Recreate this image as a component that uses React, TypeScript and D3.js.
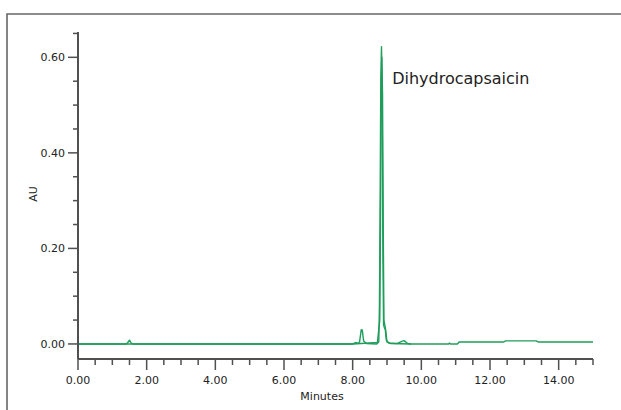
import React from "react";
import * as d3 from "d3";

// Trace 1 (minutes, AU)
const trace1Time = [0, 1.4, 1.45, 1.5, 1.55, 1.6, 8.0, 8.1, 8.15, 8.2, 8.25, 8.28, 8.32, 8.4, 8.7, 8.76, 8.78, 8.8, 8.82, 8.84, 8.86, 8.88, 8.9, 8.92, 8.95, 8.98, 9.05, 9.3, 9.45, 9.5, 9.6, 9.7, 10.8, 10.82, 10.85, 11.05, 11.1, 12.4, 12.45, 13.35, 13.4, 15.0];
const trace1AU = [0, 0, 0.003, 0.008, 0.002, 0, 0, 0.003, 0.001, 0.004, 0.030, 0.029, 0.006, 0.001, 0, 0.004, 0.08, 0.3, 0.56, 0.622, 0.5, 0.2, 0.04, 0.035, 0.03, 0.008, 0.002, 0.001, 0.006, 0.007, 0.001, 0, 0, 0.002, 0, 0, 0.004, 0.004, 0.0065, 0.0065, 0.004, 0.004];

// Trace 2 (minutes, AU)
const trace2Time = [0, 8.0, 8.72, 8.79, 8.81, 8.83, 8.85, 8.87, 8.89, 8.91, 8.93, 8.96, 9.0, 9.1, 9.7];
const trace2AU = [0, 0, 0.003, 0.05, 0.25, 0.5, 0.6, 0.52, 0.25, 0.05, 0.042, 0.03, 0.004, 0.001, 0];

const yMajor = [0, 0.2, 0.4, 0.6];
const yMinor = [0.05, 0.1, 0.15, 0.25, 0.3, 0.35, 0.45, 0.5, 0.55, 0.65];
const xMajor = [0, 2, 4, 6, 8, 10, 12, 14];
const xMinor = [0.5, 1, 1.5, 2.5, 3, 3.5, 4.5, 5, 5.5, 6.5, 7, 7.5, 8.5, 9, 9.5, 10.5, 11, 11.5, 12.5, 13, 13.5, 14.5, 15];

const peakLabel = "Dihydrocapsaicin";
const peakLabelTime = 9.15;
const peakLabelAU = 0.545;

export default function App() {
  const W = 621, H = 410;
  const x = d3.scaleLinear().domain([0, 15]).range([78, 593]);
  const y = d3.scaleLinear().domain([-0.0315, 0.653]).range([359, 32]);
  const line = d3.line<[number, number]>().x(d => x(d[0])).y(d => y(d[1]));
  const t1 = trace1Time.map((t, i) => [t, trace1AU[i]] as [number, number]);
  const t2 = trace2Time.map((t, i) => [t, trace2AU[i]] as [number, number]);
  const axisColor = "#505050";
  const font = "DejaVu Sans, Verdana, sans-serif";
  const green = "#1f9d5b";
  return (
    <svg width={W} height={H} style={{ position: "absolute", left: 0, top: 0, background: "#fff" }}>
      <rect x={0} y={0} width={W} height={H} fill="#fff" />
      {/* frame */}
      <path d={`M7,${H} L7,14 L${W},14`} fill="none" stroke="#666" strokeWidth={1.6} />
      {/* traces */}
      <path d={line(t2) || ""} fill="none" stroke={green} strokeWidth={1.4} strokeLinejoin="round" />
      <path d={line(t1) || ""} fill="none" stroke={green} strokeWidth={1.4} strokeLinejoin="round" />
      {/* y axis */}
      <line x1={x(0)} x2={x(0)} y1={y(-0.0315)} y2={y(0.653)} stroke={axisColor} strokeWidth={2} />
      {yMajor.map(v => (
        <g key={"ym" + v}>
          <line x1={x(0) - 10} x2={x(0)} y1={y(v)} y2={y(v)} stroke={axisColor} strokeWidth={1.5} />
          <text x={x(0) - 13} y={y(v)} dy="0.35em" textAnchor="end" fontFamily={font} fontSize={11} fill="#222">{v.toFixed(2)}</text>
        </g>
      ))}
      {yMinor.map(v => (
        <line key={"yn" + v} x1={x(0) - 5} x2={x(0)} y1={y(v)} y2={y(v)} stroke={axisColor} strokeWidth={1.5} />
      ))}
      {/* x axis */}
      <line x1={x(0)} x2={x(15)} y1={y(-0.0315)} y2={y(-0.0315)} stroke={axisColor} strokeWidth={2} />
      {xMajor.map(v => (
        <g key={"xm" + v}>
          <line x1={x(v)} x2={x(v)} y1={y(-0.0315)} y2={y(-0.0315) + 11} stroke={axisColor} strokeWidth={1.5} />
          <text x={x(v)} y={y(-0.0315) + 25} textAnchor="middle" fontFamily={font} fontSize={11} fill="#222">{v.toFixed(2)}</text>
        </g>
      ))}
      {xMinor.map(v => (
        <line key={"xn" + v} x1={x(v)} x2={x(v)} y1={y(-0.0315)} y2={y(-0.0315) + 6} stroke={axisColor} strokeWidth={1.5} />
      ))}
      <text x={322} y={400} textAnchor="middle" fontFamily={font} fontSize={11} fill="#222">Minutes</text>
      <text transform="translate(37,194) rotate(-90)" textAnchor="middle" fontFamily={font} fontSize={11} fill="#222">AU</text>
      <text x={x(peakLabelTime) + 0} y={y(peakLabelAU)} fontFamily={font} fontSize={16} fill="#222">{peakLabel}</text>
    </svg>
  );
}
